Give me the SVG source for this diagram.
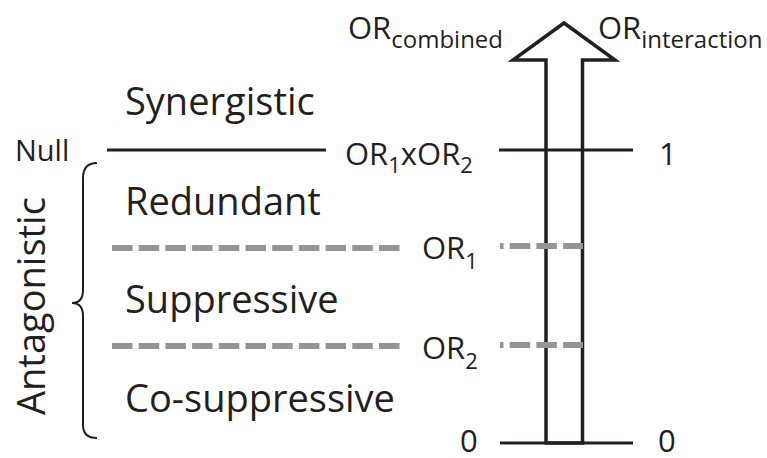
<svg xmlns="http://www.w3.org/2000/svg" width="767" height="458" viewBox="0 0 767 458">
<style>
text{font-family:"Open Sans","Noto Sans",sans-serif;fill:#231f20}
.lbl{font-size:38px}
.val{font-size:31px}
.sub{font-size:22px}
.solid{stroke:#231f20;stroke-width:3;fill:none}
.dash{stroke:#939598;stroke-width:6;fill:none;stroke-dasharray:20.5 6.2}
</style>
<rect width="767" height="458" fill="#fff"/>
<g id="arrow">
<polygon points="546,443 546,60 513,60 564,23 615,60 582.5,60 582.5,443" fill="#fff" stroke="#231f20" stroke-width="3.5" stroke-linejoin="miter"/>
</g>
<g id="connectors">
<line class="solid" x1="107" y1="150" x2="326" y2="150"/>
<line class="solid" x1="499" y1="150" x2="633" y2="150"/>
<line class="solid" x1="500" y1="443" x2="633" y2="443"/>
<line class="dash" x1="112" y1="248" x2="404" y2="248"/>
<line class="dash" x1="112" y1="346" x2="404" y2="346"/>
<line class="dash" x1="500" y1="246" x2="583" y2="246" stroke-dashoffset="17"/>
<line class="dash" x1="500" y1="345" x2="583" y2="345" stroke-dashoffset="17"/>
<path d="M97,163 Q83,163 83,178 L83,290 Q83,303 72,303 Q83,303 83,316 L83,425 Q83,438 97,438" fill="none" stroke="#231f20" stroke-width="2"/>
</g>
<g id="null"><text x="15" y="161" style="font-size:29px">Null</text></g>
<g id="antagonistic"><text transform="translate(45,415) rotate(-90)" style="font-size:38px">Antagonistic</text></g>
<g id="synergistic"><text class="lbl" x="125" y="115">Synergistic</text></g>
<g id="redundant"><text class="lbl" x="125" y="215">Redundant</text></g>
<g id="suppressive"><text class="lbl" x="125" y="313">Suppressive</text></g>
<g id="cosuppressive"><text class="lbl" x="125" y="412">Co-suppressive</text></g>
<g id="or1xor2"><text class="val" x="345" y="165">OR<tspan class="sub" dy="8">1</tspan><tspan dy="-8">xOR</tspan><tspan class="sub" dy="8">2</tspan></text></g>
<g id="or1"><text class="val" x="422" y="259">OR<tspan class="sub" dy="10">1</tspan></text></g>
<g id="or2"><text class="val" x="422" y="359">OR<tspan class="sub" dy="10">2</tspan></text></g>
<g id="one"><text class="val" x="659" y="165">1</text></g>
<g id="zero-left"><text class="val" x="460" y="452">0</text></g>
<g id="zero-right"><text class="val" x="658" y="452">0</text></g>
<g id="or-combined"><text class="val" x="348" y="39">OR<tspan style="font-size:24px" dy="9">combined</tspan></text></g>
<g id="or-interaction"><text class="val" x="598" y="39">OR<tspan style="font-size:24px" dy="9">interaction</tspan></text></g>
</svg>
